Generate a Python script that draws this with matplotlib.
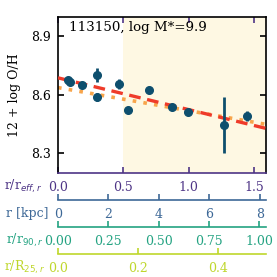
import matplotlib
matplotlib.use("Agg")
import matplotlib.pyplot as plt
import numpy as np

plt.rcParams['font.family'] = ['DejaVu Serif']
plt.rcParams['mathtext.fontset'] = 'dejavusans'

# data (radius in r/r_eff, metallicity 12+log O/H)
r_reff = [0.073, 0.092, 0.184, 0.301, 0.301, 0.467, 0.536, 0.697, 0.875, 0.995, 1.272, 1.446]
oh = [8.679, 8.667, 8.650, 8.703, 8.589, 8.656, 8.525, 8.625, 8.537, 8.514, 8.445, 8.492]
oh_err = [0.012, 0.012, 0.012, 0.034, 0.020, 0.025, 0.010, 0.012, 0.015, 0.010, 0.145, 0.024]

fit_dashed = (8.688, -0.163)   # intercept, slope
fit_dotted = (8.638, -0.1185)

r_eff_kpc = 5.187
r90_reff = 1.538
r25_reff = 3.068
xmax = 1.591

title = "113150, log M*=9.9"

c_main = '#4e3586'
c_kpc = '#3d6897'
c_r90 = '#24a382'
c_r25 = '#bfd72c'
c_pts = '#0e4f6e'

W = H = 277
fig = plt.figure(figsize=(2.77, 2.77), dpi=100)

def fx(px):
    return px / W

def fy(py):
    return 1 - py / H

left, right, top, bot = 58, 266, 17, 173
ax = fig.add_axes([fx(left), fy(bot), fx(right - left), (bot - top) / H])
ax.set_xlim(0, xmax)
ax.set_ylim(8.2, 9.0)
ax.axvspan(0.5, xmax, color='#fef8e3', zorder=0, lw=0)

xx = np.array([0, xmax])
ax.plot(xx, fit_dotted[0] + fit_dotted[1] * xx, ls=(0, (1, 2)), color='#f8a54b', lw=2.6, zorder=2)
ax.plot(xx, fit_dashed[0] + fit_dashed[1] * xx, ls=(0, (3.5, 2)), color='#ef3b2a', lw=2.4, zorder=3)
ax.errorbar(r_reff, oh, yerr=oh_err, fmt='o', color=c_pts, ms=5.5, elinewidth=2, capsize=0, zorder=4)

ax.set_yticks([8.3, 8.6, 8.9])
ax.set_yticklabels(['8.3', '8.6', '8.9'])
ax.set_xticks([0.0, 0.5, 1.0, 1.5])
ax.set_xticklabels(['0.0', '0.5', '1.0', '1.5'])
ax.tick_params(axis='y', direction='in', left=True, right=True, length=4, width=1.2, labelsize=9, pad=5)
ax.tick_params(axis='x', direction='in', top=True, bottom=True, length=4, width=1.2, labelsize=9, pad=6,
               labelcolor=c_main, color=c_main)
for s in ['left', 'right', 'top']:
    ax.spines[s].set_linewidth(1.2)
ax.spines['bottom'].set_color(c_main)
ax.spines['bottom'].set_linewidth(1.2)
for tl in ax.xaxis.get_major_ticks():
    tl.tick2line.set_color('black')
ax.set_ylabel("12 + log O/H", fontsize=9, labelpad=7)
ax.text(0.053, 0.975, title, transform=ax.transAxes, ha='left', va='top', fontsize=9.6)

fig.text(fx(42), fy(186), r"r/r$_{eff,r}$", color=c_main, ha='right', va='center', fontsize=9)

def sec_axis(ypix, xmaxv, ticks, labels, color, label, label_x):
    a = fig.add_axes([fx(left), fy(ypix), fx(right - left), 0.001])
    a.set_xlim(0, xmaxv)
    a.set_yticks([])
    for s in ['left', 'right', 'top']:
        a.spines[s].set_visible(False)
    a.spines['bottom'].set_color(color)
    a.spines['bottom'].set_linewidth(1.2)
    a.patch.set_visible(False)
    a.set_xticks(ticks)
    a.set_xticklabels(labels)
    a.tick_params(axis='x', direction='in', length=4, width=1.2, color=color, labelcolor=color,
                  labelsize=9, pad=6)
    fig.text(fx(label_x), fy(ypix + 13), label, color=color, ha='right', va='center', fontsize=9)
    return a

sec_axis(200, xmax * r_eff_kpc, [0, 2, 4, 6, 8], ['0', '2', '4', '6', '8'], c_kpc, "r [kpc]", 48)
sec_axis(227, xmax / r90_reff, [0, 0.25, 0.5, 0.75, 1.0], ['0.00', '0.25', '0.50', '0.75', '1.00'],
         c_r90, r"r/r$_{90,r}$", 44)
sec_axis(254, xmax / r25_reff, [0, 0.2, 0.4], ['0.0', '0.2', '0.4'], c_r25, r"r/R$_{25,r}$", 45)

fig.savefig("out.png", dpi=100)
